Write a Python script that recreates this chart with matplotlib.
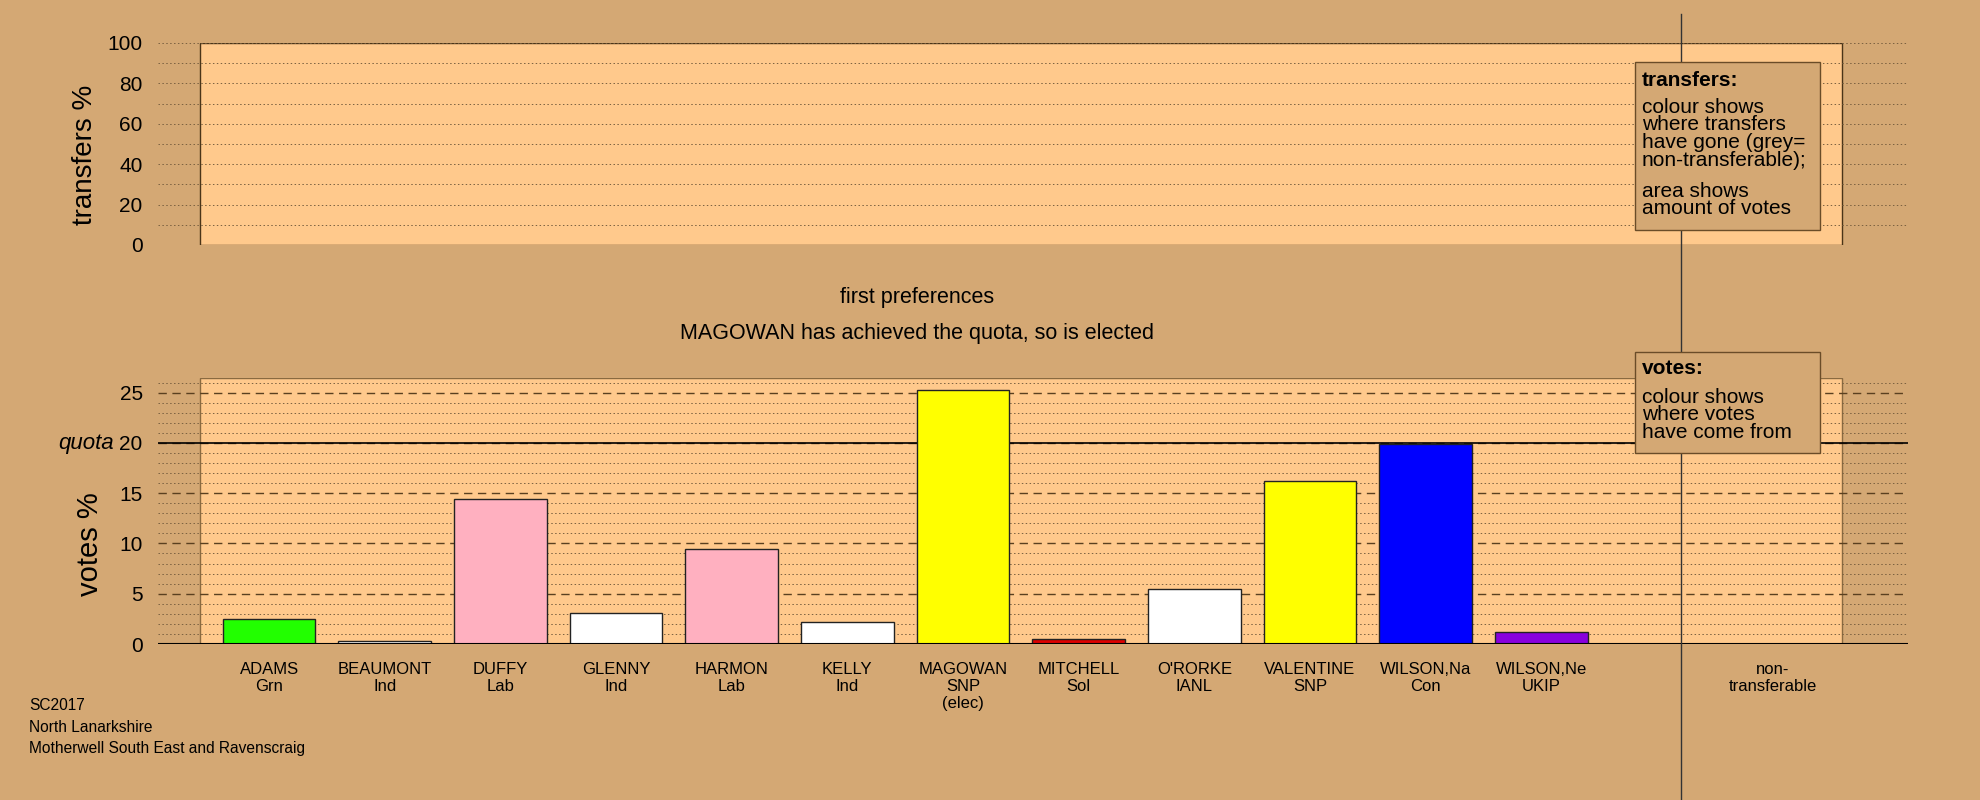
import matplotlib.pyplot as plt
from matplotlib.patches import Rectangle
from matplotlib.lines import Line2D

plt.rcParams['font.family'] = ['Liberation Sans', 'DejaVu Sans']

candidates = ['ADAMS', 'BEAUMONT', 'DUFFY', 'GLENNY', 'HARMON', 'KELLY', 'MAGOWAN',
              'MITCHELL', "O'RORKE", 'VALENTINE', 'WILSON,Na', 'WILSON,Ne']
parties = ['Grn', 'Ind', 'Lab', 'Ind', 'Lab', 'Ind', 'SNP', 'Sol', 'IANL', 'SNP', 'Con', 'UKIP']
status = ['', '', '', '', '', '', '(elec)', '', '', '', '', '']
votes_pct = [2.46, 0.33, 14.42, 3.12, 9.47, 2.23, 25.25, 0.47, 5.45, 16.18, 19.93, 1.16]
bar_colors = ['#22FF00', '#FFFFFF', '#FFB0C0', '#FFFFFF', '#FFB0C0', '#FFFFFF', '#FFFF00',
              '#DD0000', '#FFFFFF', '#FFFF00', '#0000FF', '#8800DD']
quota = 20
nontrans_pos = 13

BG = '#D4A874'
PEACH = '#FFC98C'
W, H = 1980, 800

fig = plt.figure(figsize=(W / 100, H / 100), dpi=100, facecolor=BG)


def px(x, y):
    # pixel coords (from top-left) -> figure fraction
    return x / W, 1 - y / H


def grid_lines(ax, ymax, minor, major=None):
    y = 0
    while y <= ymax + 1e-9:
        if y == 0 and major is not None:
            pass
        elif major is not None and y % major == 0:
            ax.axhline(y, color='#5a4020', lw=1.0, ls=(0, (6, 4)), zorder=1)
        else:
            ax.axhline(y, color='#7a6040', lw=0.7, ls=(0, (1.5, 2.5)), zorder=1)
        y += minor


x0, x1 = -0.96, 14.17
box_l, box_r = -0.6, 13.6

# top panel: transfers
ax1 = fig.add_axes([158 / W, 1 - 245 / H, 1750 / W, 202 / H])
ax1.set_facecolor('none')
ax1.set_xlim(x0, x1)
ax1.set_ylim(0, 100)
ax1.add_patch(Rectangle((box_l, 0), box_r - box_l, 100, facecolor=PEACH,
                        edgecolor='#4a3418', lw=1, zorder=0))
grid_lines(ax1, 100, 10)
ax1.set_yticks(range(0, 101, 20))
ax1.set_xticks([])
ax1.tick_params(length=0, pad=11, labelsize=15)
for s in ax1.spines.values():
    s.set_visible(False)

# bottom panel: votes
ax2 = fig.add_axes([158 / W, 1 - 644 / H, 1750 / W, 266.5 / H])
ax2.set_facecolor('none')
ax2.set_xlim(x0, x1)
ax2.set_ylim(0, 26.5)
ax2.add_patch(Rectangle((box_l, 0), box_r - box_l, 26.5, facecolor=PEACH,
                        edgecolor='#8a6a40', lw=1, zorder=0))
grid_lines(ax2, 26, 1, major=5)
ax2.axhline(quota, color='black', lw=1.2, zorder=1)
ax2.axhline(0, color='black', lw=1.5, zorder=3)
pos = list(range(len(candidates)))
ax2.bar(pos, votes_pct, width=0.8, color=bar_colors, edgecolor='#222222', lw=1, zorder=2)
ax2.set_yticks(range(0, 26, 5))
labels = []
for c, p, st in zip(candidates, parties, status):
    labels.append(c + '\n' + p + ('\n' + st if st else ''))
ax2.set_xticks(pos + [nontrans_pos])
ax2.set_xticklabels(labels + ['non-\ntransferable'], fontsize=12, linespacing=1.15)
ax2.tick_params(axis='y', length=0, pad=11, labelsize=15)
ax2.tick_params(axis='x', length=0, pad=13)
for s in ax2.spines.values():
    s.set_visible(False)

fig.text(*px(114, 443), 'quota', fontsize=16, style='italic', ha='right', va='center')
fig.text(*px(85, 155), 'transfers %', fontsize=20, rotation=90, ha='center', va='center')
fig.text(*px(90, 544), 'votes %', fontsize=21, rotation=90, ha='center', va='center')

fig.text(*px(917, 297), 'first preferences', fontsize=15.5, ha='center', va='center')
fig.text(*px(917, 333), 'MAGOWAN has achieved the quota, so is elected', fontsize=15.5,
         ha='center', va='center')

# vertical separator
fig.add_artist(Line2D([1681 / W, 1681 / W], [1 - 14 / H, 0], color='#333333', lw=1, zorder=2))

# legend boxes
for (bx, by, bw, bh) in [(1635, 62, 185, 168), (1635, 352, 185, 101)]:
    fig.add_artist(Rectangle(px(bx, by + bh), bw / W, bh / H, facecolor=BG,
                             edgecolor='#6a4c28', lw=1, zorder=3))

fig.text(*px(1642, 80), 'transfers:', fontsize=15, fontweight='bold', va='center', zorder=4)
fig.text(*px(1642, 98), 'colour shows\nwhere transfers\nhave gone (grey=\nnon-transferable);',
         fontsize=15, va='top', linespacing=0.9, zorder=4)
fig.text(*px(1642, 182), 'area shows\namount of votes', fontsize=15, va='top',
         linespacing=0.9, zorder=4)
fig.text(*px(1642, 369), 'votes:', fontsize=15, fontweight='bold', va='center', zorder=4)
fig.text(*px(1642, 388), 'colour shows\nwhere votes\nhave come from', fontsize=15, va='top',
         linespacing=0.9, zorder=4)

fig.text(*px(29, 706), 'SC2017', fontsize=11.2, va='center')
fig.text(*px(29, 728), 'North Lanarkshire', fontsize=11.2, va='center')
fig.text(*px(29, 749), 'Motherwell South East and Ravenscraig', fontsize=11.2, va='center')

fig.savefig('out.png', dpi=100, facecolor=BG)
